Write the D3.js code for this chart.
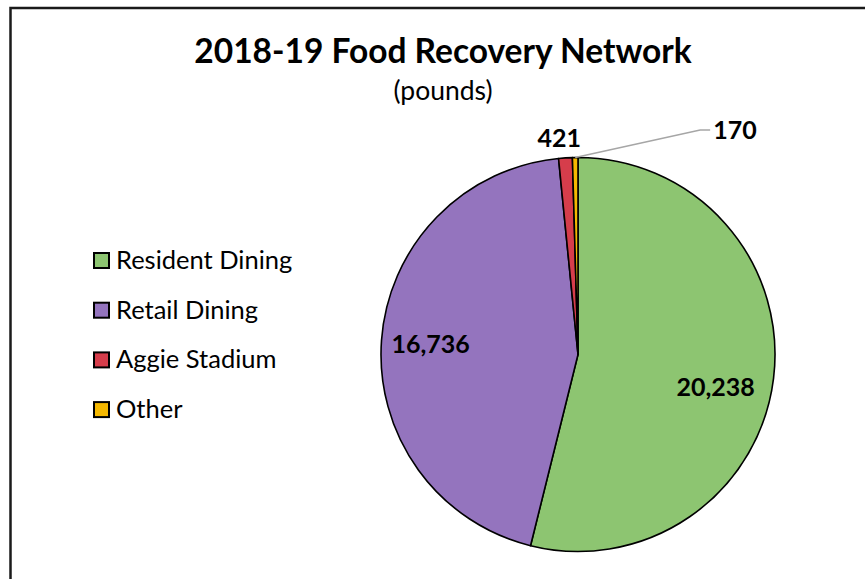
<!DOCTYPE html>
<html>
<head>
<meta charset="utf-8">
<script src="https://cdn.jsdelivr.net/npm/d3@7"></script>
<style>
  body { margin: 0; background: #fff; }
  text { font-family: Lato, "Open Sans", sans-serif; fill: #000; }
</style>
</head>
<body>
<div id="chart"></div>
<script>
// ********** FOOD RECOVERY PIE **********

// Chart data
const categories = ['Resident Dining', 'Retail Dining', 'Aggie Stadium', 'Other'];
const pounds = [20238, 16736, 421, 170];
const sliceColors = ['#8dc571', '#9474be', '#d63d4b', '#f5b800'];

const titleText = '2018-19 Food Recovery Network';
const subtitleText = '(pounds)';

const width = 865;
const height = 579;

// Pie geometry
const cx = 578;
const cy = 354.5;
const radius = 197;

const svg = d3.select('#chart')
	.append('svg')
	.attr('width', width)
	.attr('height', height);

// Chart frame (only top and left edges visible in the crop)
svg.append('path')
	.attr('d', `M10.5,${height + 5} V8 H${width + 5}`)
	.attr('fill', 'none')
	.attr('stroke', '#1a1a1a')
	.attr('stroke-width', 2.5);

// Title
svg.append('text')
	.attr('x', 443)
	.attr('y', 63)
	.attr('text-anchor', 'middle')
	.attr('font-size', 33.5)
	.attr('font-weight', 'bold')
	.text(titleText);

svg.append('text')
	.attr('x', 443)
	.attr('y', 100)
	.attr('text-anchor', 'middle')
	.attr('font-size', 26.5)
	.text(subtitleText);

// Pie
const data = categories.map((c, i) => ({ id: c, value: pounds[i], idx: i }));

const pie = d3.pie()
	.sort(null)
	.value(d => d.value);

const arc = d3.arc()
	.innerRadius(0)
	.outerRadius(radius);

const labelArc = d3.arc()
	.innerRadius(radius * 0.75)
	.outerRadius(radius * 0.75);

const arcs = pie(data);

const pieGroup = svg.append('g')
	.attr('transform', `translate(${cx}, ${cy})`);

pieGroup.selectAll('path.slice')
	.data(arcs)
	.enter()
	.append('path')
	.attr('class', 'slice')
	.attr('d', arc)
	.attr('fill', d => sliceColors[d.data.idx])
	.attr('stroke', '#000')
	.attr('stroke-width', 1.6)
	.attr('stroke-linejoin', 'round');

const fmt = d3.format(',');
const midAngle = d => (d.startAngle + d.endAngle) / 2;

// Big slices: label inside (Excel nudges the right one a bit lower)
pieGroup.selectAll('text.inner')
	.data(arcs.filter(d => d.data.value > 1000))
	.enter()
	.append('text')
	.attr('class', 'inner')
	.attr('transform', d => {
		const [x, y] = labelArc.centroid(d);
		return `translate(${x}, ${y})`;
	})
	.attr('text-anchor', 'middle')
	.attr('dx', (d, i) => i === 0 ? -9 : 0)
	.attr('dy', (d, i) => i === 0 ? '0.95em' : '0.35em')
	.attr('font-size', 25)
	.attr('font-weight', 'bold')
	.text(d => fmt(d.data.value));

// Aggie Stadium: label just outside
const smallA = arcs[2];
const outA = d3.arc().innerRadius(radius * 1.1).outerRadius(radius * 1.1);
pieGroup.append('text')
	.attr('transform', `translate(${outA.centroid(smallA)})`)
	.attr('text-anchor', 'middle')
	.attr('dx', -5)
	.attr('dy', '0.35em')
	.attr('font-size', 25)
	.attr('font-weight', 'bold')
	.text(fmt(smallA.data.value));

// Other: label with leader line
const smallB = arcs[3];
const a = midAngle(smallB);
const start = [radius * Math.sin(a), -radius * Math.cos(a)];
const elbow = [radius * 0.62, -radius * 1.14];
const end = [elbow[0] + 10, elbow[1]];

pieGroup.append('polyline')
	.attr('points', [start, elbow, end].map(p => p.join(',')).join(' '))
	.attr('fill', 'none')
	.attr('stroke', '#a6a6a6')
	.attr('stroke-width', 1.5);

pieGroup.append('text')
	.attr('x', end[0] + 3)
	.attr('y', end[1])
	.attr('dy', '0.35em')
	.attr('font-size', 25)
	.attr('font-weight', 'bold')
	.text(fmt(smallB.data.value));

// Legend
const legend = svg.append('g')
	.attr('transform', 'translate(93, 260)');

const rows = legend.selectAll('g.row')
	.data(data)
	.enter()
	.append('g')
	.attr('class', 'row')
	.attr('transform', (d, i) => `translate(0, ${i * 49.7})`);

rows.append('rect')
	.attr('x', 1)
	.attr('y', -7)
	.attr('width', 15)
	.attr('height', 15)
	.attr('fill', d => sliceColors[d.idx])
	.attr('stroke', '#000')
	.attr('stroke-width', 2);

rows.append('text')
	.attr('x', 23)
	.attr('dy', '0.35em')
	.attr('font-size', 25.5)
	.text(d => d.id);
</script>
</body>
</html>
